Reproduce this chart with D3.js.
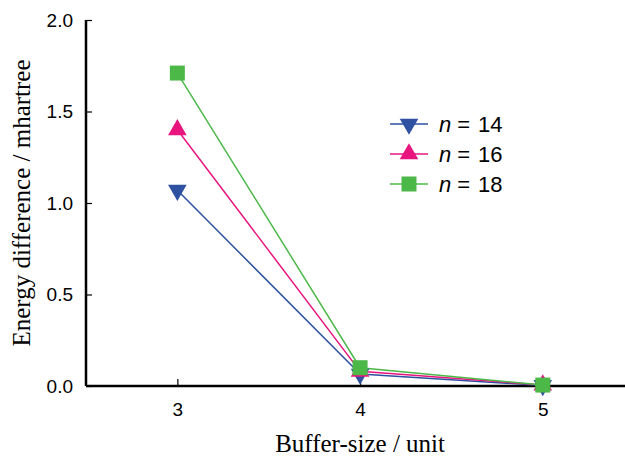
<!DOCTYPE html>
<html>
<head>
<meta charset="utf-8">
<script src="https://cdn.jsdelivr.net/npm/d3@7"></script>
<style>
  body { margin: 0; background: #fff; }
  .tick text { font-family: "Liberation Sans", Arial, sans-serif; font-size: 19px; fill: #000; }
</style>
</head>
<body>
<div id="chart"></div>
<script>
var bufferSizes = [3, 4, 5];
var seriesNames = ["14", "16", "18"];
var n14 = [1.07, 0.065, 0.003];
var n16 = [1.40, 0.08, 0.005];
var n18 = [1.71, 0.10, 0.005];
var yTicks = [0, 0.5, 1.0, 1.5, 2.0];

var svgWidth = 625;
var svgHeight = 457;
var margin = { top: 20, right: 0, bottom: 71, left: 86 };

var svg = d3.select("#chart").append("svg")
  .attr("width", svgWidth)
  .attr("height", svgHeight);

var x = d3.scaleLinear().domain([2.5, 5.45]).range([margin.left, svgWidth]);
var y = d3.scaleLinear().domain([0, 2]).range([svgHeight - margin.bottom, margin.top]);

var colors = ["#2f51a1", "#e8157f", "#4cb848"];
var symbols = [d3.symbolTriangle, d3.symbolTriangle, d3.symbolSquare];
var rotations = [180, 0, 0];
var sizes = [150, 150, 225];

var series = [n14, n16, n18].map(function(vals, i) {
  return { name: seriesNames[i], values: vals.map(function(v, j) { return { x: bufferSizes[j], y: v }; }) };
});

// y axis
var yAxis = svg.append("g")
  .attr("transform", `translate(${margin.left},0)`)
  .call(d3.axisRight(y).tickValues(yTicks).tickFormat(d3.format(".1f")).tickSize(6));
yAxis.select(".domain").remove();
yAxis.selectAll(".tick line").attr("stroke", "#000").attr("stroke-width", 1.2);
yAxis.selectAll(".tick text").attr("x", -13).attr("text-anchor", "end");
svg.append("line")
  .attr("x1", margin.left).attr("x2", margin.left)
  .attr("y1", y(2)).attr("y2", y(0))
  .attr("stroke", "#000").attr("stroke-width", 2.5);

// x axis
var xAxis = svg.append("g")
  .attr("transform", `translate(0,${y(0)})`)
  .call(d3.axisTop(x).tickValues(bufferSizes).tickFormat(d3.format("d")).tickSize(7));
xAxis.select(".domain").remove();
xAxis.selectAll(".tick line").attr("stroke", "#000").attr("stroke-width", 1.2);
xAxis.selectAll(".tick text").attr("y", 17).attr("dy", "0.71em");
svg.append("line")
  .attr("x1", margin.left).attr("x2", svgWidth)
  .attr("y1", y(0)).attr("y2", y(0))
  .attr("stroke", "#000").attr("stroke-width", 2.5);

// lines and markers
var line = d3.line().x(function(d) { return x(d.x); }).y(function(d) { return y(d.y); });

series.forEach(function(s, i) {
  svg.append("path")
    .datum(s.values)
    .attr("fill", "none")
    .attr("stroke", colors[i])
    .attr("stroke-width", 1.5)
    .attr("d", line);
});

series.forEach(function(s, i) {
  svg.selectAll(null).data(s.values).enter().append("path")
    .attr("d", d3.symbol().type(symbols[i]).size(sizes[i]))
    .attr("transform", function(d) { return `translate(${x(d.x)},${y(d.y)}) rotate(${rotations[i]})`; })
    .attr("fill", colors[i]);
});

// legend
var legend = svg.append("g").attr("transform", "translate(390,124)");
series.forEach(function(s, i) {
  var row = legend.append("g").attr("transform", `translate(0,${i * 30})`);
  row.append("line").attr("x1", 0).attr("x2", 38).attr("stroke", colors[i]).attr("stroke-width", 1.5);
  row.append("path")
    .attr("d", d3.symbol().type(symbols[i]).size(sizes[i]))
    .attr("transform", `translate(19,0) rotate(${rotations[i]})`)
    .attr("fill", colors[i]);
  var t = row.append("text")
    .attr("x", 49).attr("y", 0).attr("dy", "0.36em")
    .attr("font-family", "'Liberation Sans', Arial, sans-serif")
    .attr("font-size", "22px");
  t.append("tspan").attr("font-style", "italic").text("n");
  t.append("tspan").attr("dx", 6).text("=");
  t.append("tspan").attr("dx", 8).text(s.name);
});

// axis titles
svg.append("text")
  .attr("transform", `translate(30,${(y(0) + y(2)) / 2}) rotate(-90)`)
  .attr("text-anchor", "middle")
  .attr("font-family", "'Liberation Serif', 'Times New Roman', serif")
  .attr("font-size", "25px")
  .text("Energy difference / mhartree");

svg.append("text")
  .attr("x", x(4)).attr("y", 452)
  .attr("text-anchor", "middle")
  .attr("font-family", "'Liberation Serif', 'Times New Roman', serif")
  .attr("font-size", "25px")
  .text("Buffer-size / unit");
</script>
</body>
</html>
